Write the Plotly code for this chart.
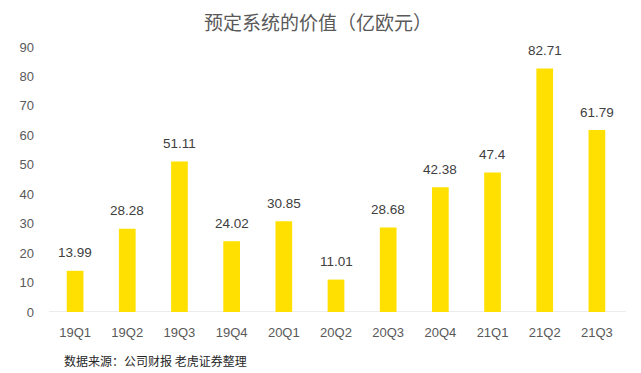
import plotly.graph_objects as go

categories = ["19Q1", "19Q2", "19Q3", "19Q4", "20Q1", "20Q2", "20Q3", "20Q4", "21Q1", "21Q2", "21Q3"]
values = [13.99, 28.28, 51.11, 24.02, 30.85, 11.01, 28.68, 42.38, 47.4, 82.71, 61.79]
labels = ["13.99", "28.28", "51.11", "24.02", "30.85", "11.01", "28.68", "42.38", "47.4", "82.71", "61.79"]
y_ticks = [0, 10, 20, 30, 40, 50, 60, 70, 80, 90]

latin = "Liberation Sans, Arial, Noto Sans CJK SC, sans-serif"
cjk = "Noto Sans CJK SC, Liberation Sans, sans-serif"

# page body has an 8px default margin; compensate in the figure margins
OFF = 8
L, R, T, B = 49 - OFF, 18 + OFF, 47 - OFF, 61 + OFF
PW = 641 - L - R
PH = 373 - T - B

fig = go.Figure(go.Bar(
    x=categories, y=values,
    marker=dict(color="#FFE000", line=dict(width=0)),
    width=0.32,
))

annotations = [
    dict(x=c, y=v, text=t, xref="x", yref="y", showarrow=False, yanchor="middle",
         yshift=18, font=dict(size=13.5, color="#404040", family=latin))
    for c, v, t in zip(categories, values, labels)
]
annotations.append(dict(text="数据来源：公司财报 老虎证券整理", xref="paper", yref="paper",
                        x=(62 - 49) / PW, y=-48 / PH, xanchor="left", yanchor="middle",
                        showarrow=False, font=dict(size=12, color="#262626", family=cjk)))
annotations.append(dict(text="预定系统的价值（亿欧元）", xref="paper", yref="paper",
                        x=(318 - 49) / PW, y=1 + (47 - 21) / PH, xanchor="center", yanchor="middle",
                        showarrow=False, font=dict(size=19, color="#595959", family=cjk)))

fig.update_layout(
    width=641, height=373,
    margin=dict(l=L, r=R, t=T, b=B, autoexpand=False),
    paper_bgcolor="white", plot_bgcolor="white",
    showlegend=False,
    font=dict(family=latin, color="#595959", size=13),
    xaxis=dict(showline=False, ticks="", showgrid=False, ticklabelstandoff=11,
               tickfont=dict(size=13, color="#595959", family=latin)),
    yaxis=dict(range=[0, 90], tickvals=y_ticks, showgrid=False, zeroline=False, showline=False,
               ticks="", ticklabelstandoff=14, tickfont=dict(size=13, color="#595959", family=latin)),
    shapes=[dict(type="line", xref="paper", yref="y", x0=0, x1=(626 - 49) / PW, y0=0, y1=0,
                 line=dict(color="#D9D9D9", width=1.2), layer="below")],
    annotations=annotations,
)

fig.write_html("out.html")
